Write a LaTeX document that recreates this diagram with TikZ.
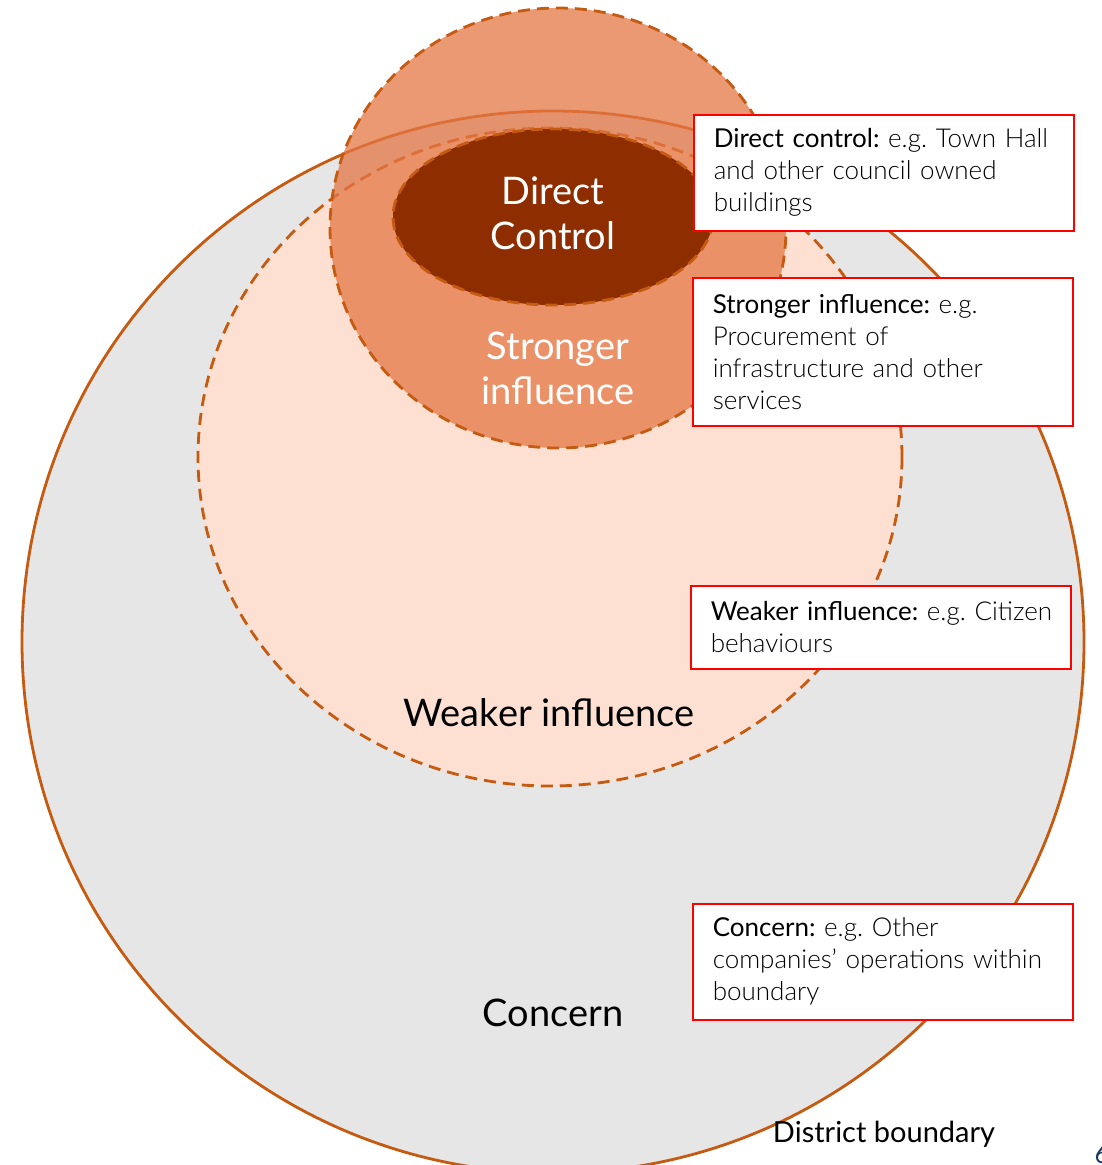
\documentclass[tikz,border=0pt]{standalone}
\usepackage{fontspec}
\setmainfont{Lato}
\newfontfamily\lightfont{Lato Light}
\usepackage{tikz}
\usetikzlibrary{positioning}

\definecolor{rimorange}{RGB}{197,90,17}
\definecolor{concerngrey}{RGB}{230,230,230}
\definecolor{weakpeach}{RGB}{253,224,210}
\definecolor{strongorange}{RGB}{228,119,69}
\definecolor{directbrown}{RGB}{142,45,0}
\definecolor{boxred}{RGB}{255,0,0}
\definecolor{pagenavy}{RGB}{31,56,100}

% first line of a callout: tag in regular weight, kept on one line
\newcommand{\calltag}[2]{\mbox{{\normalfont #1} #2}}
\frenchspacing

\begin{document}
\begin{tikzpicture}[
  x=1pt, y=-1pt,
  ring/.style={draw=rimorange, line width=2.8pt},
  dashring/.style={ring, dash pattern=on 12pt off 7pt},
  zonelabel/.style={font=\fontsize{38}{45}\selectfont, align=center},
  callout/.style={rectangle, draw=boxred, line width=1.5pt, fill=white, anchor=north west, text width=340pt, inner xsep=20pt, inner ysep=0pt, align=left, font=\lightfont\fontsize{26}{32}\selectfont}
]
\useasboundingbox (0,0) rectangle (1102,1165);
\fill[white] (0,0) rectangle (1102,1165);

% Nested zones, outside in
\filldraw[ring, fill=concerngrey] (553,642) circle [radius=531pt];
\filldraw[dashring, fill=weakpeach] (550,457) ellipse [x radius=352pt, y radius=329pt];
\fill[strongorange, fill opacity=0.75] (558,228) ellipse [x radius=228pt, y radius=220pt];
\draw[dashring] (558,228) ellipse [x radius=228pt, y radius=220pt];
\filldraw[dashring, fill=directbrown] (553,217) ellipse [x radius=160pt, y radius=88pt];

% Zone labels
\node[zonelabel, text=white] (direct) at (553,213) {Direct\\Control};
\node[zonelabel, text=white] (stronger) at (558,368) {Stronger\\influence};
\node[zonelabel, anchor=base] (weaker) at (549,726) {Weaker influence};
\node[zonelabel, anchor=base] (concern) at (553,1026) {Concern};
\node[font=\fontsize{29}{34}\selectfont, anchor=base] (district) at (884,1142) {District boundary};
\node[font=\fontsize{26}{30}\selectfont, text=pagenavy, anchor=base west] (pagenum) at (1091,1163) {6};

% Callout boxes
\node[callout, minimum height=116pt] (directbox) at (693,114)
  {\calltag{Direct control:}{e.g. Town Hall}\\and other council owned\\buildings};
\node[callout, minimum height=148pt] (strongbox) at (692,277)
  {\calltag{Stronger influence:}{e.g.}\\Procurement of\\infrastructure and other\\services};
\node[callout, minimum height=83pt] (weakbox) at (690,585)
  {\calltag{Weaker influence:}{e.g. Citizen}\\behaviours};
\node[callout, minimum height=116pt] (concernbox) at (692,903)
  {\calltag{Concern:}{e.g. Other}\\companies’ operations within\\boundary};

\end{tikzpicture}
\end{document}
